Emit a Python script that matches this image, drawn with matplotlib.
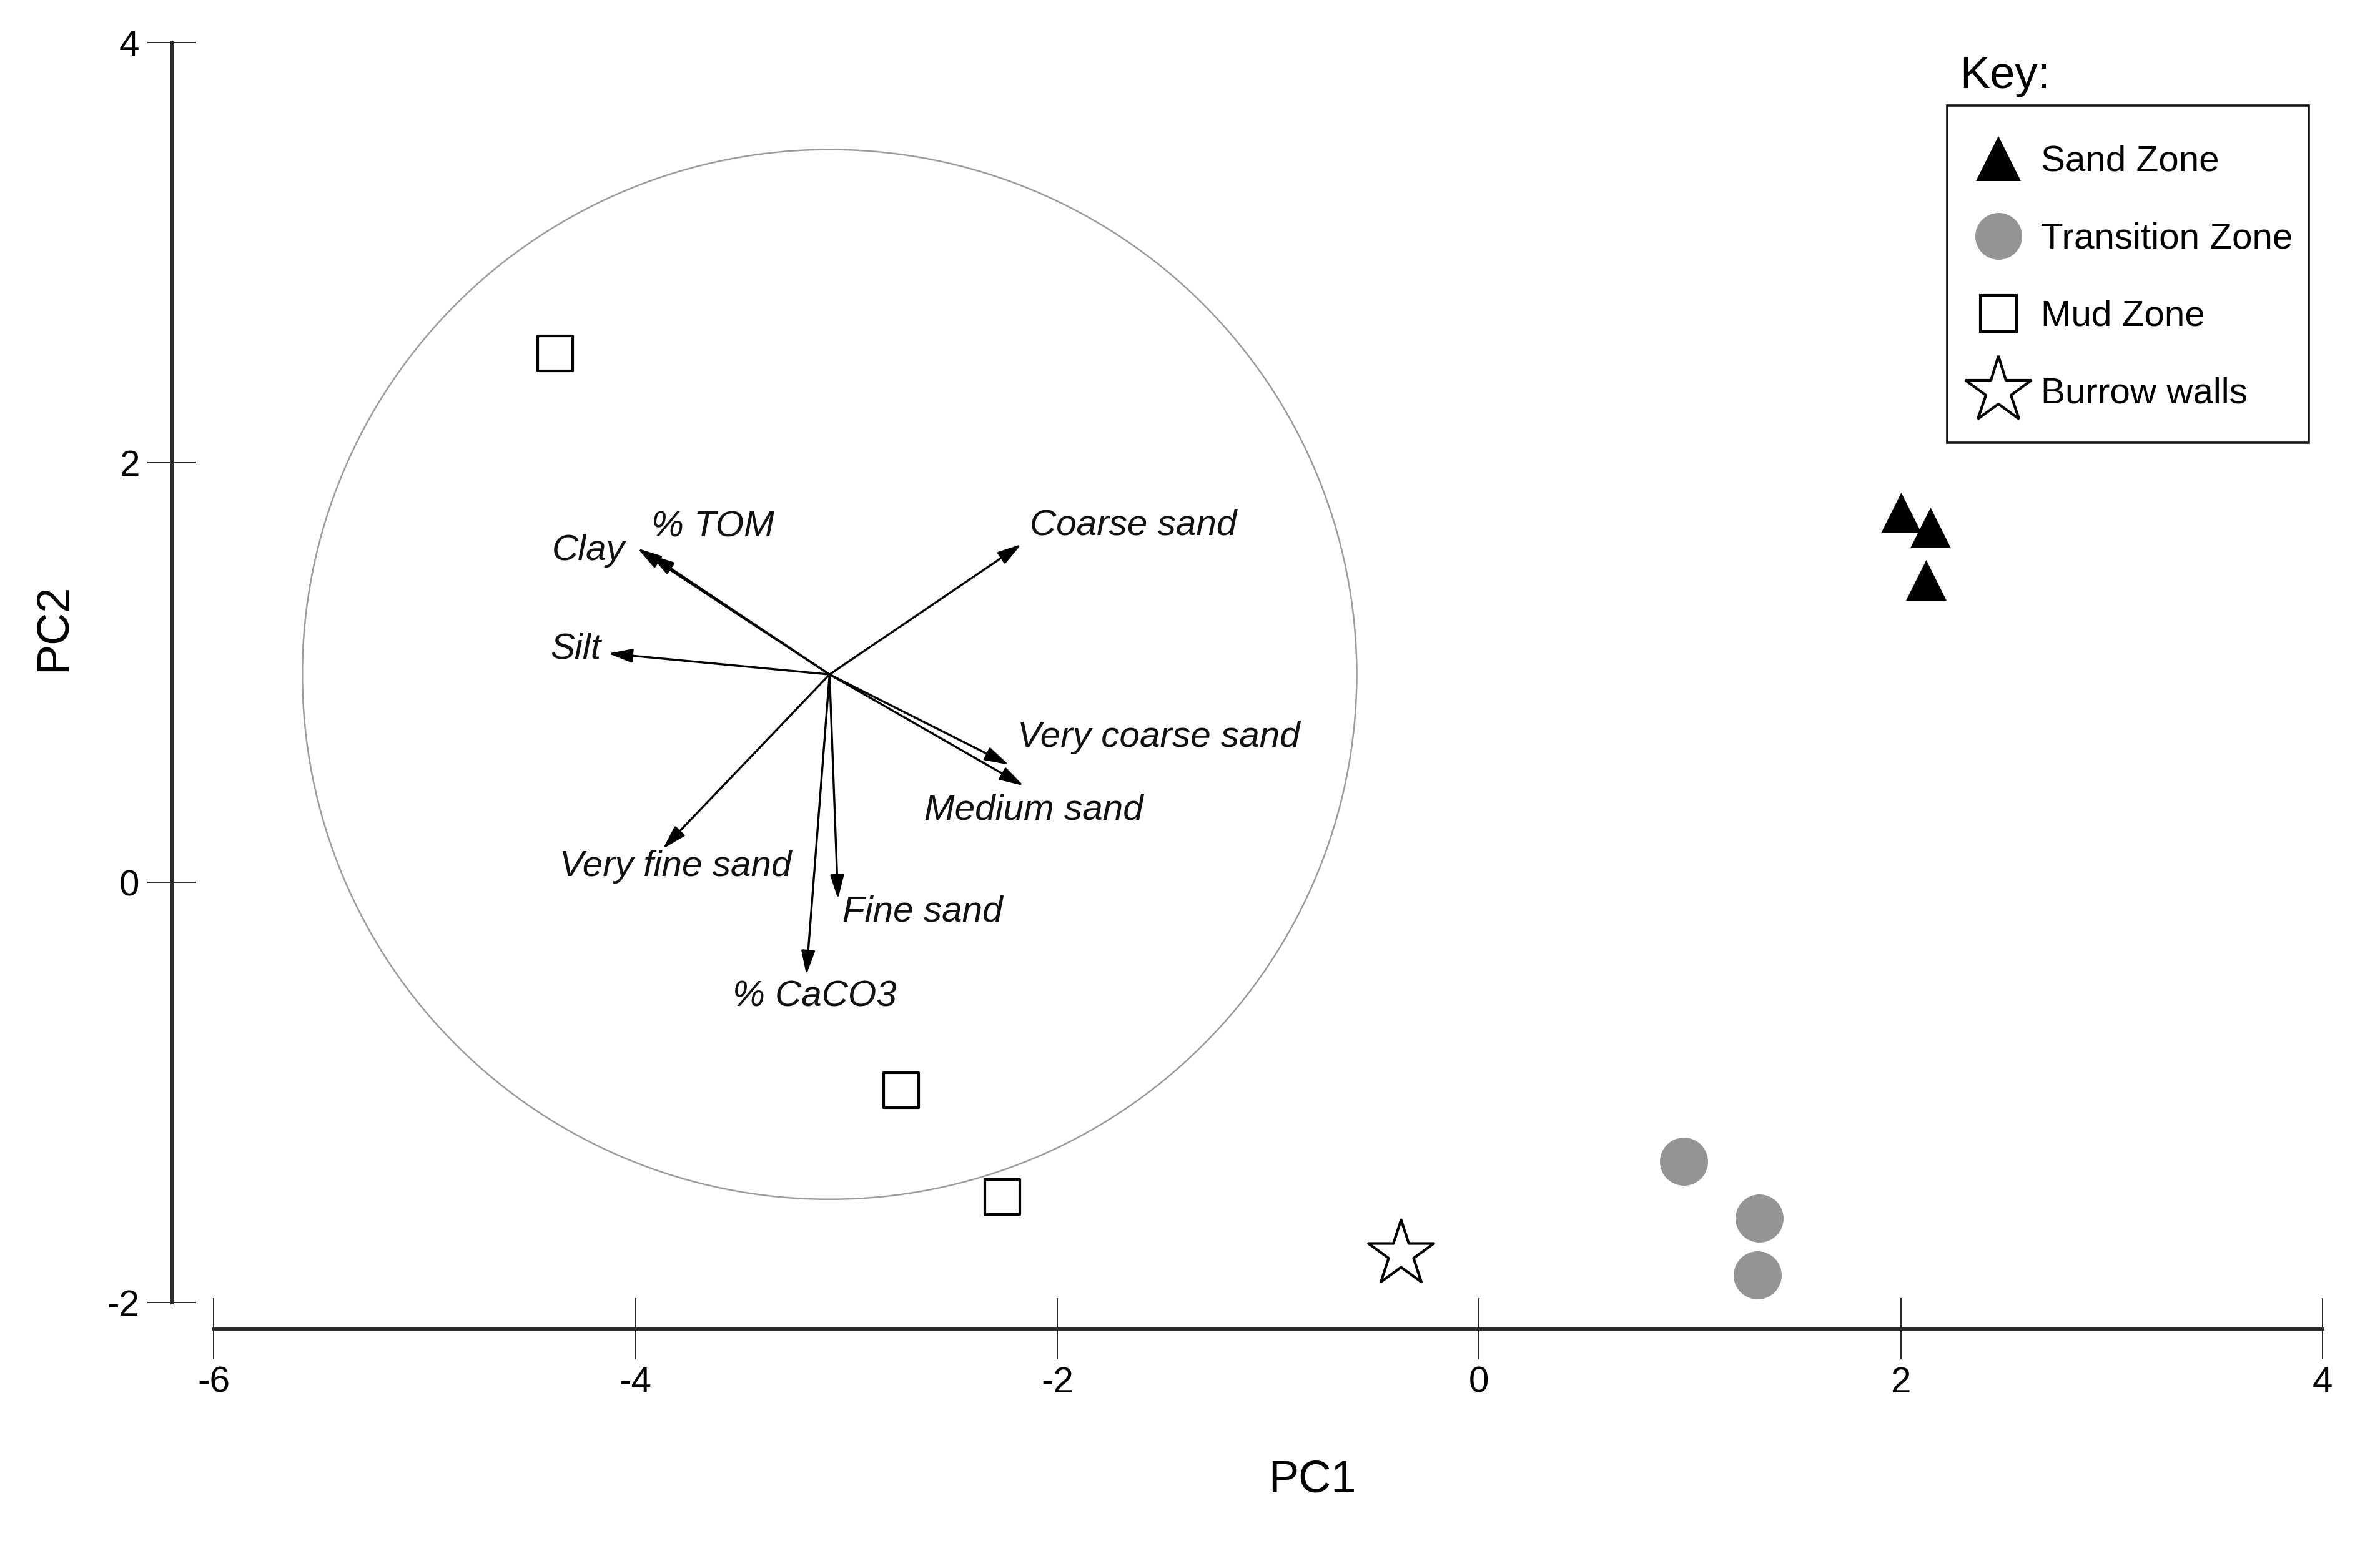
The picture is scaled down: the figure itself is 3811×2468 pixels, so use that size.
import matplotlib
matplotlib.use("Agg")
import matplotlib.pyplot as plt
from matplotlib.patches import Circle, Rectangle
from matplotlib.lines import Line2D

plt.rcParams['font.family'] = ['Liberation Sans', 'DejaVu Sans']
plt.rcParams['axes.unicode_minus'] = False

# sample scores (PC1, PC2)
sand_x = [2.00, 2.14, 2.12]
sand_y = [1.76, 1.69, 1.44]
trans_x = [0.97, 1.33, 1.32]
trans_y = [-1.33, -1.60, -1.87]
mud_x = [-4.38, -2.74, -2.26]
mud_y = [2.52, -0.99, -1.50]
burrow_x = [-0.37]
burrow_y = [-1.77]

# variable loadings drawn as arrows from the circle centre
centre = (-3.08, 0.99)
circle_r = 2.5
var_names = ["Clay", "% TOM", "Silt", "Coarse sand", "Very coarse sand",
             "Medium sand", "Very fine sand", "Fine sand", "% CaCO3"]
tip_x = [-3.99, -3.93, -4.13, -2.17, -2.23, -2.16, -3.87, -3.04, -3.19]
tip_y = [1.59, 1.56, 1.09, 1.61, 0.56, 0.46, 0.16, -0.08, -0.44]
lab_x = [-4.05, -3.925, -4.165, -2.13, -2.19, -2.63, -4.36, -3.02, -3.54]
lab_y = [1.58, 1.69, 1.11, 1.70, 0.69, 0.345, 0.075, -0.14, -0.545]
lab_ha = ["right", "left", "right", "left", "left", "left", "left", "left", "left"]

xticks = [-6, -4, -2, 0, 2, 4]
yticks = [-2, 0, 2, 4]

fig = plt.figure(figsize=(19.06, 12.34), dpi=200)
ax = fig.add_axes([0.0721, 0.1378, 0.9035, 0.8346])
ax.set_xlim(-6.2, 4.0)
ax.set_ylim(-2.126, 4.0)

ax.add_patch(Circle(centre, circle_r, fill=False, edgecolor="#9c9c9c", lw=0.9, zorder=1))

for i in range(len(var_names)):
    ax.annotate("", xy=(tip_x[i], tip_y[i]), xytext=centre,
                arrowprops=dict(arrowstyle="-|>,head_length=0.45,head_width=0.13",
                                mutation_scale=26, lw=1.2, color="black",
                                shrinkA=0, shrinkB=0), zorder=3)
    ax.text(lab_x[i], lab_y[i], var_names[i], ha=lab_ha[i], va="center",
            fontsize=21, style="italic", color="#111111", zorder=4)

ax.scatter(sand_x, sand_y, marker="^", s=548, color="black", linewidths=0, zorder=5)
ax.scatter(trans_x, trans_y, marker="o", s=768, color="#949494", linewidths=0, zorder=5)
ax.scatter(mud_x, mud_y, marker="s", s=420, facecolor="white", edgecolor="black",
           linewidths=1.5, zorder=5)
ax.scatter(burrow_x, burrow_y, marker="*", s=1568, facecolor="white", edgecolor="black",
           linewidths=1.5, zorder=5)

for side in ["top", "right"]:
    ax.spines[side].set_visible(False)
ax.spines["left"].set_bounds(-2, 4)
ax.spines["bottom"].set_bounds(-6, 4)
for side in ["left", "bottom"]:
    ax.spines[side].set_linewidth(1.8)
    ax.spines[side].set_color("#2a2a2a")

ax.set_xticks(xticks)
ax.set_yticks(yticks)
ax.tick_params(axis="both", direction="inout", width=0.6, color="black", labelsize=21)
ax.tick_params(axis="y", length=28, pad=4.5)
ax.tick_params(axis="x", length=35, pad=4)

fig.text(2101 / 3812, 0.0393, "PC1", ha="center", va="center", fontsize=26)
fig.text(86 / 3812, 0.5928, "PC2", ha="center", va="center", fontsize=26, rotation=90)

# key
handles = [
    Line2D([], [], ls="none", marker="^", ms=26, color="black", mew=0),
    Line2D([], [], ls="none", marker="o", ms=27, color="#949494", mew=0),
    Line2D([], [], ls="none", marker="s", ms=21, mfc="white", mec="black", mew=1.5),
    Line2D([], [], ls="none", marker="*", ms=40, mfc="white", mec="black", mew=1.5),
]
labels = ["Sand Zone", "Transition Zone", "Mud Zone", "Burrow walls"]
box_l, box_t, box_r, box_b = 3118 / 3812, 1 - 169 / 2468, 3697 / 3812, 1 - 709 / 2468
fig.legend(handles, labels, loc="upper left", bbox_to_anchor=(box_l - 14 / 3812, box_t),
           bbox_transform=fig.transFigure, frameon=False, fontsize=21,
           borderaxespad=0, borderpad=1.08, handlelength=1.13, handleheight=0.7,
           handletextpad=0.6, labelspacing=1.2)
fig.add_artist(Rectangle((box_l, box_b), box_r - box_l, box_t - box_b, fill=False,
                         edgecolor="#111111", lw=1.3, transform=fig.transFigure))
fig.text(0.8232, 0.9505, "Key:", ha="left", va="center", fontsize=26)

fig.savefig("out.png", dpi=200, facecolor="white")
